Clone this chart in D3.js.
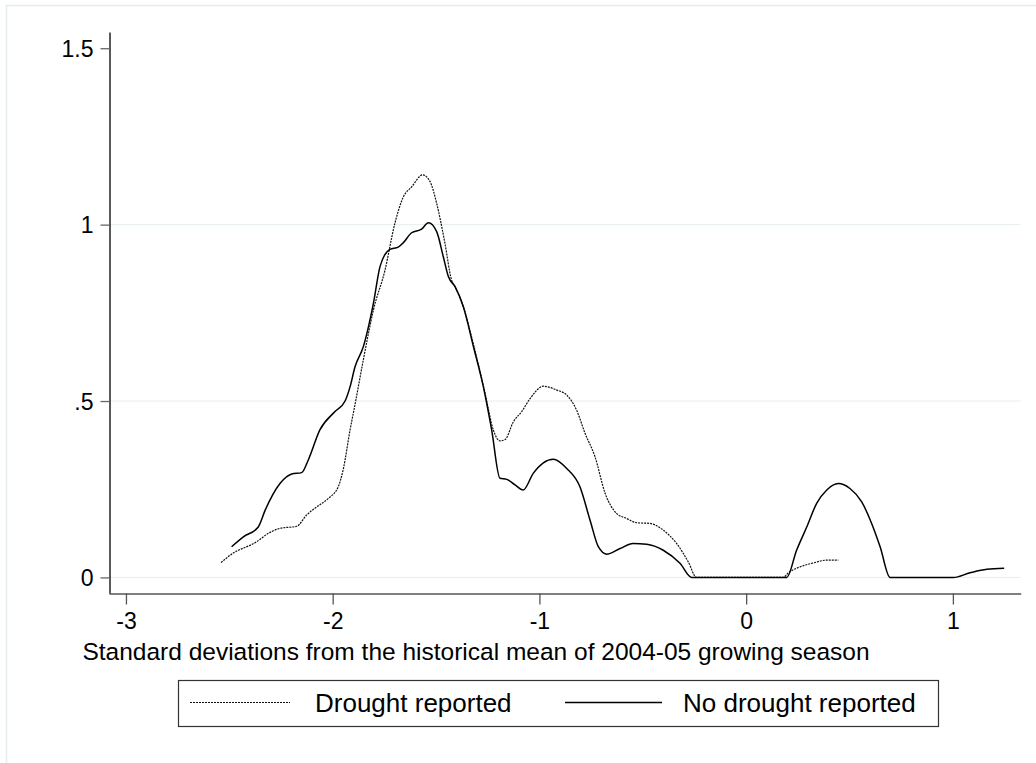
<!DOCTYPE html>
<html>
<head>
<meta charset="utf-8">
<script src="https://cdn.jsdelivr.net/npm/d3@7"></script>
<style>
  body { margin: 0; background: #fff; }
  svg text { font-family: "Liberation Sans", Arial, sans-serif; fill: #000; }
</style>
</head>
<body>
<svg id="chart" width="1036" height="763"></svg>
<script>
// Kernel density values
const droughtX = [-2.54, -2.489, -2.368, -2.311, -2.255, -2.174, -2.126, -2.077, -2.021, -1.973,
  -1.948, -1.916, -1.892, -1.852, -1.803, -1.747, -1.699, -1.658, -1.618, -1.565,
  -1.529, -1.497, -1.457, -1.425, -1.408, -1.368, -1.319, -1.263, -1.223, -1.191,
  -1.166, -1.126, -1.086, -1.045, -0.981, -0.916, -0.868, -0.82, -0.779, -0.731,
  -0.682, -0.626, -0.578, -0.529, -0.465, -0.401, -0.336, -0.28, -0.24, 0.18,
  0.204, 0.261, 0.325, 0.39, 0.446];
const droughtY = [0.042, 0.066, 0.101, 0.125, 0.139, 0.145, 0.177, 0.2, 0.224, 0.257,
  0.309, 0.418, 0.49, 0.616, 0.758, 0.871, 1.004, 1.079, 1.107, 1.141,
  1.122, 1.06, 0.947, 0.843, 0.824, 0.767, 0.66, 0.522, 0.418, 0.387,
  0.391, 0.441, 0.47, 0.507, 0.542, 0.531, 0.517, 0.474, 0.408, 0.342,
  0.238, 0.181, 0.167, 0.155, 0.153, 0.134, 0.096, 0.044, 0, 0,
  0.013, 0.03, 0.041, 0.049, 0.049];

const noDroughtX = [-2.489, -2.432, -2.36, -2.327, -2.255, -2.198, -2.15, -2.118, -2.062, -1.989,
  -1.94, -1.916, -1.892, -1.852, -1.803, -1.771, -1.723, -1.683, -1.658, -1.618,
  -1.57, -1.537, -1.497, -1.465, -1.44, -1.408, -1.368, -1.319, -1.271, -1.231,
  -1.191, -1.158, -1.118, -1.078, -1.03, -0.981, -0.933, -0.868, -0.804, -0.755,
  -0.715, -0.675, -0.61, -0.547, -0.481, -0.401, -0.32, -0.263, 0.196, 0.244,
  0.293, 0.341, 0.39, 0.446, 0.502, 0.559, 0.607, 0.648, 0.696, 1.002,
  1.083, 1.164, 1.248];
const noDroughtY = [0.087, 0.115, 0.143, 0.19, 0.266, 0.293, 0.297, 0.333, 0.418, 0.47,
  0.5, 0.54, 0.597, 0.654, 0.777, 0.881, 0.93, 0.936, 0.949, 0.977,
  0.987, 1.005, 0.98, 0.909, 0.852, 0.824, 0.767, 0.654, 0.54, 0.418,
  0.281, 0.278, 0.262, 0.248, 0.295, 0.325, 0.335, 0.309, 0.257, 0.162,
  0.087, 0.066, 0.082, 0.096, 0.094, 0.077, 0.04, 0, 0, 0.077,
  0.143, 0.21, 0.248, 0.266, 0.252, 0.214, 0.153, 0.087, 0, 0,
  0.013, 0.023, 0.026];

const xTicks = [-3, -2, -1, 0, 1];
const yTicks = [0, 0.5, 1, 1.5];
const yTickLabels = ["0", ".5", "1", "1.5"];
const gridValues = [0, 0.5, 1];
const xTitle = "Standard deviations from the historical mean of 2004-05 growing season";
const seriesNames = ["Drought reported", "No drought reported"];

let svg = d3.select("#chart");

// faint outer frame of the graph region
svg.append("rect")
  .attr("x", 6.5).attr("y", 5.5)
  .attr("width", 1100).attr("height", 900)
  .attr("fill", "none")
  .attr("stroke", "#e4ecee")
  .attr("stroke-width", 1.5);

let xScale = d3.scaleLinear().domain([-3.082, 1.328]).range([109, 1020.7]);
let yScale = d3.scaleLinear().domain([-0.045, 1.546]).range([593.3, 32]);

// gridlines
svg.append("g")
  .selectAll("line")
  .data(gridValues)
  .join("line")
  .attr("x1", xScale.range()[0])
  .attr("x2", xScale.range()[1])
  .attr("y1", d => yScale(d))
  .attr("y2", d => yScale(d))
  .attr("stroke", "#e6eeef")
  .attr("stroke-width", 1);

// y axis
let yAxis = d3.axisLeft(yScale)
  .tickValues(yTicks)
  .tickFormat((d, i) => yTickLabels[i])
  .tickSize(9)
  .tickPadding(7)
  .tickSizeOuter(0);
let gy = svg.append("g")
  .attr("transform", "translate(109.5,0)")
  .call(yAxis);
gy.select(".domain").attr("stroke", "#000").attr("stroke-width", 1.3);
gy.selectAll(".tick line").attr("stroke", "#666").attr("stroke-width", 1.3);
gy.selectAll(".tick text").style("font-size", "23px").attr("dy", "0.35em");

// x axis
let xAxis = d3.axisBottom(xScale)
  .tickValues(xTicks)
  .tickFormat(d => String(d))
  .tickSize(11)
  .tickPadding(8)
  .tickSizeOuter(0);
let gx = svg.append("g")
  .attr("transform", "translate(0,593.5)")
  .call(xAxis);
gx.select(".domain").attr("stroke", "#555").attr("stroke-width", 1.6);
gx.selectAll(".tick line").attr("stroke", "#555").attr("stroke-width", 1.3);
gx.selectAll(".tick text").style("font-size", "23px");

// axis title
svg.append("text")
  .attr("x", 476)
  .attr("y", 660)
  .attr("text-anchor", "middle")
  .style("font-size", "24.5px")
  .text(xTitle);

// density curves
let line = d3.line()
  .x(d => xScale(d[0]))
  .y(d => yScale(d[1]))
  .curve(d3.curveMonotoneX);

let droughtData = droughtX.map((x, i) => [x, droughtY[i]]);
let noDroughtData = noDroughtX.map((x, i) => [x, noDroughtY[i]]);

svg.append("path")
  .datum(droughtData)
  .attr("d", line)
  .attr("fill", "none")
  .attr("stroke", "#111")
  .attr("stroke-width", 1.2)
  .style("stroke-dasharray", "2,1");

svg.append("path")
  .datum(noDroughtData)
  .attr("d", line)
  .attr("fill", "none")
  .attr("stroke", "#000")
  .attr("stroke-width", 1.5);

// legend
let legend = svg.append("g").attr("transform", "translate(178,680)");
legend.append("rect")
  .attr("x", 0.5).attr("y", 0.5)
  .attr("width", 760).attr("height", 46)
  .attr("fill", "none")
  .attr("stroke", "#333")
  .attr("stroke-width", 1.2);

legend.append("line")
  .attr("x1", 12).attr("x2", 112)
  .attr("y1", 22.5).attr("y2", 22.5)
  .attr("stroke", "#111")
  .attr("stroke-width", 1.2)
  .style("stroke-dasharray", "2,1");
legend.append("text")
  .attr("x", 137).attr("y", 32)
  .style("font-size", "26px")
  .text(seriesNames[0]);

legend.append("line")
  .attr("x1", 387).attr("x2", 484)
  .attr("y1", 22.5).attr("y2", 22.5)
  .attr("stroke", "#000")
  .attr("stroke-width", 1.5);
legend.append("text")
  .attr("x", 505).attr("y", 32)
  .style("font-size", "26px")
  .text(seriesNames[1]);
</script>
</body>
</html>
